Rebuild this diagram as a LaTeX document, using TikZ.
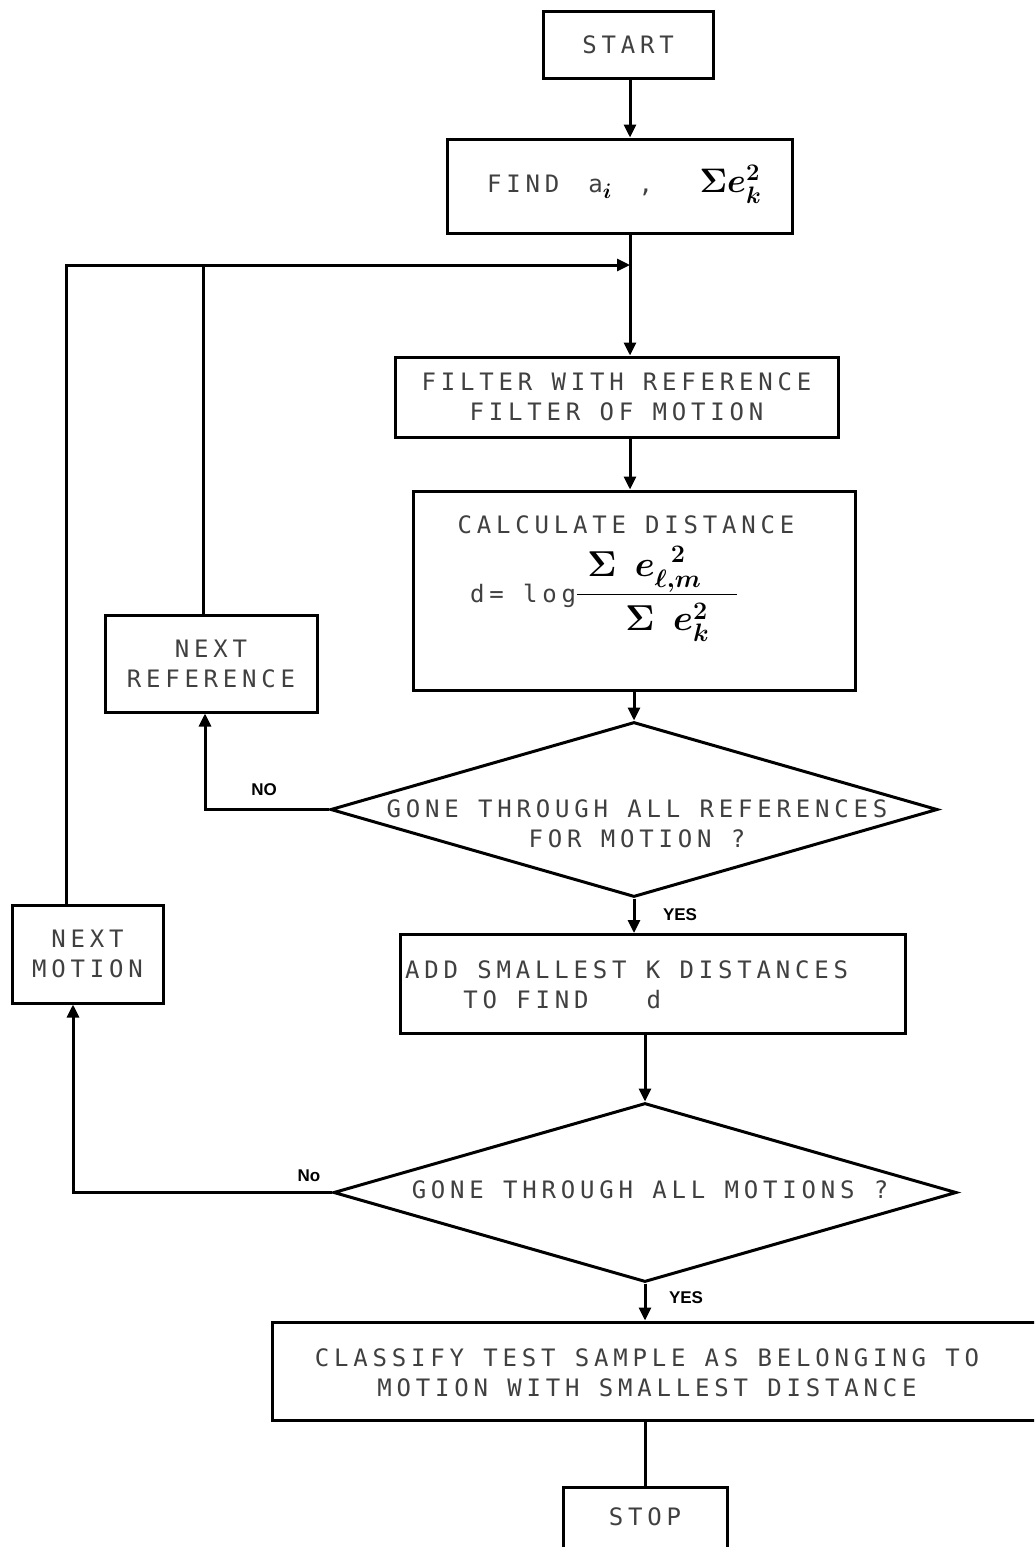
\RequirePackage{fix-cm}
\documentclass[tikz,border=0pt]{standalone}
\usepackage{fontspec}
\usetikzlibrary{arrows.meta,shapes.geometric}
\newfontfamily\pf[LetterSpace=20]{DejaVu Sans Mono}
\newfontfamily\lf{Liberation Sans}
\newcommand\ptxt{\pf\fontsize{24}{30}\selectfont}
\newcommand\hw[1]{\fontsize{#1}{#1}\selectfont\boldmath}
\newcommand\blk[1]{\hspace*{#1\dimexpr19.4pt\relax}}
\begin{document}
\begin{tikzpicture}[x=1pt,y=-1pt,
  box/.style={draw, line width=3pt, inner sep=0pt, align=center, font=\ptxt, text=black!75},
  dia/.style={draw, diamond, line width=3pt, inner sep=0pt},
  txt/.style={inner sep=0pt, align=center, font=\ptxt, text=black!75},
  con/.style={line width=3pt},
  arr/.style={con, -{Triangle[length=13pt,width=12pt]}},
  lab/.style={inner sep=0pt, font=\lf\bfseries\fontsize{17}{20}\selectfont}]
\useasboundingbox (0,0) rectangle (1034,1547);
\fill[white] (0,0) rectangle (1034,1547);
\clip (0,0) rectangle (1034,1547);
% boxes
\node[box, minimum width=170pt, minimum height=67pt] (start) at (628,45) {START};
\node[box, minimum width=345pt, minimum height=94pt] (find) at (619.5,186) {};
\node[txt, anchor=west] (findt) at (487,184) {FIND\blk{1.5}a\raisebox{-6pt}{\color{black}\hw{30}$\scriptstyle i$}\blk{1.4},\blk{2.4}{\color{black}\hw{34}$\Sigma e^{2}_{k}$}};
\node[box, minimum width=443pt, minimum height=80pt] (filter) at (616.5,397) {FILTER WITH REFERENCE\\FILTER OF MOTION};
\node[box, minimum width=442pt, minimum height=199pt] (calc) at (634,590.5) {};
\node[txt] (calct) at (626,525) {CALCULATE DISTANCE};
\node[txt, anchor=west] (calcf) at (470,594) {d= log{\color{black}\hw{36}$\displaystyle\frac{\hspace{10pt}\Sigma\;\, e_{\ell,m}^{\;\;2}\hspace{36pt}}{\hspace{20pt}\Sigma\;\, e_{k}^{2}}$}};
\node[box, minimum width=212pt, minimum height=97pt] (nextref) at (211,663.5) {NEXT\\REFERENCE};
\node[dia, minimum width=607pt, minimum height=175pt] (dec1) at (634,809.5) {};
\node[txt] (dec1t) at (637,824) {GONE THROUGH ALL REFERENCES\\FOR MOTION ?};
\node[box, minimum width=505pt, minimum height=99pt] (add) at (652.5,984) {};
\node[txt, anchor=west, align=left] (addt) at (405,985) {ADD SMALLEST K DISTANCES\\\blk{3}TO FIND\blk{3}d};
\node[dia, minimum width=623pt, minimum height=179pt] (dec2) at (645,1192.5) {};
\node[txt] (dec2t) at (650,1190) {GONE THROUGH ALL MOTIONS ?};
\node[box, minimum width=151pt, minimum height=98pt] (nextmot) at (87.5,954) {NEXT\\MOTION};
\node[box, minimum width=788pt, minimum height=98pt] (classify) at (666,1371) {};
\node[txt] (classt) at (647,1373) {CLASSIFY TEST SAMPLE AS BELONGING TO\\MOTION WITH SMALLEST DISTANCE};
\node[box, minimum width=164pt, minimum height=96pt] (stop) at (645,1535) {};
\node[txt] (stopt) at (645,1517) {STOP};
% connectors
\coordinate (j1) at (630,265);
\coordinate (l1) at (66,265);
\coordinate (l2) at (203,265);
\coordinate (n1) at (205,809.5);
\coordinate (n2) at (73,1192.5);
\draw[arr] (start.south -| j1) -- (j1 |- find.north);
\draw[con] (find.south -| j1) -- (j1);
\draw[arr] (j1) -- (j1 |- filter.north);
\draw[arr] (nextmot.north -| l1) -- (l1) -- (j1);
\draw[con] (nextref.north -| l2) -- (l2);
\draw[arr] (filter.south -| j1) -- (j1 |- calc.north);
\draw[arr] (calc.south -| dec1.north) -- (dec1.north);
\draw[arr] (dec1.west) -- (n1) -- (nextref.south -| n1);
\draw[arr] (dec1.south) -- (dec1.south |- add.north);
\draw[arr] (add.south -| dec2.north) -- (dec2.north);
\draw[arr] (dec2.west) -- (n2) -- (nextmot.south -| n2);
\draw[arr] (dec2.south) -- (dec2.south |- classify.north);
\draw[con] (classify.south -| stop.north) -- (stop.north);
% labels
\node[lab] (no1) at (264,790) {NO};
\node[lab] (yes1) at (680,915) {YES};
\node[lab] (no2) at (309,1176) {No};
\node[lab] (yes2) at (686,1298) {YES};
\end{tikzpicture}
\end{document}
